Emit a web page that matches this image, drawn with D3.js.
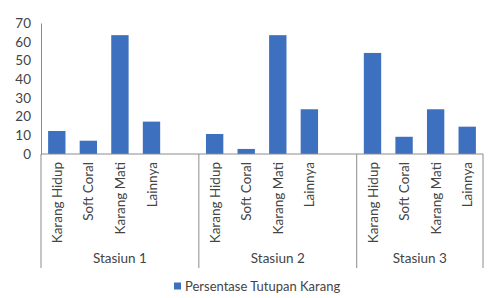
<!DOCTYPE html>
<html>
<head>
<meta charset="utf-8">
<script src="https://cdn.jsdelivr.net/npm/d3@7"></script>
<style>
  body { margin: 0; background: #fff; }
  text { font-family: Lato, "Open Sans", sans-serif; fill: #444; }
</style>
</head>
<body>
<div id="chart"></div>
<script>
// data
var stations = ["Stasiun 1", "Stasiun 2", "Stasiun 3"];
var categories = ["Karang Hidup", "Soft Coral", "Karang Mati", "Lainnya"];
var stasiun1 = [12.3, 7.1, 63.5, 17.3];
var stasiun2 = [10.7, 2.7, 63.5, 23.9];
var stasiun3 = [54, 9.2, 23.9, 14.6];
var yTicks = [0, 10, 20, 30, 40, 50, 60, 70];
var seriesName = "Persentase Tutupan Karang";

var svgWidth = 494;
var svgHeight = 298;
var margin = { top: 23, right: 11, bottom: 144, left: 41 };
var width = svgWidth - margin.left - margin.right;
var height = svgHeight - margin.top - margin.bottom;

var svg = d3.select("#chart")
  .append("svg")
  .attr("width", svgWidth)
  .attr("height", svgHeight);

var chartGroup = svg.append("g")
  .attr("transform", `translate(${margin.left}, ${margin.top})`);

// flatten into rows; stations 1 and 2 carry one empty slot after them (blank cell in the sheet)
var allValues = [stasiun1, stasiun2, stasiun3];
var rows = [];
var slots = [];
var groupStart = {};
var groupEnd = {};
stations.forEach((s, i) => {
  categories.forEach((c, j) => {
    var key = s + "|" + c;
    rows.push({ key: key, station: s, cat: c, value: allValues[i][j] });
    slots.push(key);
  });
  if (i < stations.length - 1) slots.push(s + "|blank");
});

var xScale = d3.scaleBand()
  .domain(slots)
  .range([0, width])
  .paddingInner(0.45)
  .paddingOuter(0.225);

var step = xScale.step();
var x0 = xScale(slots[0]) - step * 0.225;
stations.forEach((s, i) => {
  var first = xScale(s + "|" + categories[0]) - step * 0.225;
  groupStart[s] = first;
});
stations.forEach((s, i) => {
  groupEnd[s] = i < stations.length - 1 ? groupStart[stations[i + 1]] : width;
});

var yScale = d3.scaleLinear()
  .domain([0, 70])
  .range([height, 0]);

// y axis
var leftAxis = d3.axisLeft(yScale).tickValues(yTicks).tickSize(0).tickPadding(10);
var yAxis = chartGroup.append("g").call(leftAxis);
yAxis.select(".domain").attr("stroke", "#8c8c8c");
yAxis.selectAll("text").style("font-size", "13.5px").attr("fill", "#444");

// bars
chartGroup.selectAll("rect.bar")
  .data(rows)
  .enter()
  .append("rect")
  .attr("class", "bar")
  .attr("x", d => xScale(d.key))
  .attr("width", xScale.bandwidth())
  .attr("y", d => yScale(d.value))
  .attr("height", d => height - yScale(d.value))
  .attr("fill", "#3d70be");

// x axis line
chartGroup.append("line")
  .attr("x1", 0).attr("x2", width)
  .attr("y1", height).attr("y2", height)
  .attr("stroke", "#8c8c8c");

// group dividers
var dividers = stations.map(s => groupStart[s]).concat([width]);
chartGroup.selectAll("line.div")
  .data(dividers)
  .enter()
  .append("line")
  .attr("x1", d => d).attr("x2", d => d)
  .attr("y1", height).attr("y2", height + 114)
  .attr("stroke", "#8c8c8c");

// category labels (rotated)
chartGroup.selectAll("text.cat")
  .data(rows)
  .enter()
  .append("text")
  .attr("class", "cat")
  .attr("transform", d => `translate(${xScale(d.key) + xScale.bandwidth() / 2 + 5}, ${height + 8}) rotate(-90)`)
  .attr("text-anchor", "end")
  .style("font-size", "13.5px")
  .text(d => d.cat);

// station labels
chartGroup.selectAll("text.st")
  .data(stations)
  .enter()
  .append("text")
  .attr("class", "st")
  .attr("x", d => (groupStart[d] + groupEnd[d]) / 2)
  .attr("y", height + 109)
  .attr("text-anchor", "middle")
  .style("font-size", "13.5px")
  .text(d => d);

// legend
var legend = svg.append("g").attr("transform", "translate(174, 286)");
legend.append("rect")
  .attr("x", 0).attr("y", -3.5)
  .attr("width", 7).attr("height", 7)
  .attr("fill", "#3d70be");
legend.append("text")
  .attr("x", 11).attr("y", 4.5)
  .style("font-size", "13px")
  .text(seriesName);
</script>
</body>
</html>
